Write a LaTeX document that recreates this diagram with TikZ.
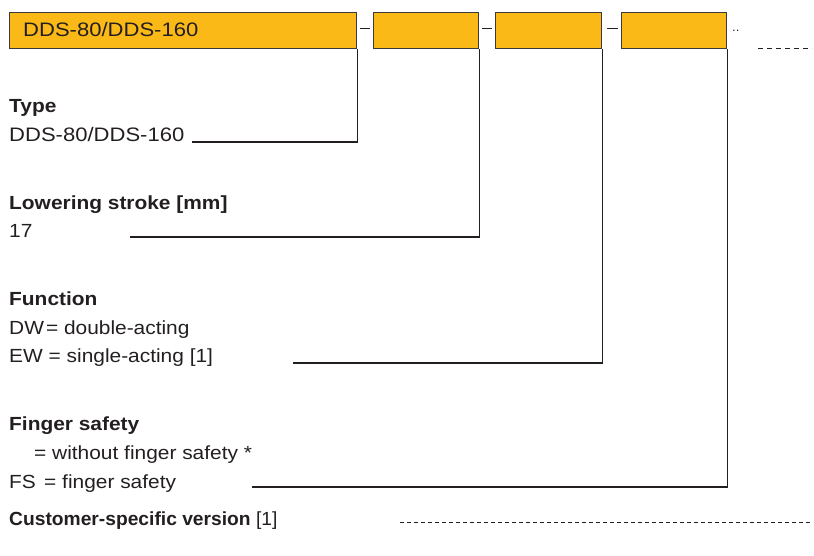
\documentclass[tikz,border=0pt]{standalone}
\usepackage{fontspec}
\usepackage{graphicx}
\setmainfont{Liberation Sans}[FakeStretch=1.1]
\newfontfamily\widefont{Liberation Sans}[FakeStretch=1.13]
\definecolor{boxfill}{HTML}{FBB917}
\definecolor{boxline}{HTML}{3A3A3A}
\definecolor{txt}{HTML}{231F20}
\tikzset{
  codebox/.style={draw=boxline, line width=1.2pt, fill=boxfill, anchor=north west, inner sep=0pt, minimum height=36pt},
  lbl/.style={anchor=base west, inner sep=0pt, text=txt, font=\fontsize{19}{22}\selectfont},
  head/.style={anchor=base west, inner sep=0pt, text=txt, font=\fontsize{19}{22}\selectfont\bfseries},
  conn/.style={draw=txt, line width=1.1pt},
  sep/.style={draw=txt, line width=1pt},
}
\begin{document}
\begin{tikzpicture}[x=1pt,y=-1pt]
\useasboundingbox (0,0) rectangle (814,556);
% boxes
\node[codebox, minimum width=347pt] (b1) at (9,12) {};
\node[lbl, font=\fontsize{19.5}{22}\widefont] at (23,37) {DDS-80/DDS-160};
\node[codebox, minimum width=105pt] (b2) at (373,12) {};
\node[codebox, minimum width=106pt] (b3) at (495,12) {};
\node[codebox, minimum width=105pt] (b4) at (621,12) {};
% separators
\draw[sep] (360,29) -- (370,29);
\draw[sep] (482,29) -- (492,29);
\draw[sep] (607,29) -- (618,29);
\node[lbl, font=\fontsize{12}{14}\selectfont] at (732,32) {..};
\draw[sep, line width=0.8pt, dash pattern=on 5pt off 4pt] (758,48) -- (812,48);
% labels
\node[head] at (9,113) {Type};
\node[lbl, font=\fontsize{19.5}{22}\widefont] (t1) at (9,142) {DDS-80/DDS-160};
\node[head] at (9,210) {Lowering stroke [mm]};
\node[lbl] at (9,237) {17};
\node[head] at (9,305) {Function};
\node[lbl] at (9,334) {DW\kern2pt= double-acting};
\node[lbl] at (9,362) {EW = single-acting [1]};
\node[head] at (9,430) {Finger safety};
\node[lbl] at (34,459) {= without finger safety *};
\node[lbl] at (9,488) {FS};
\node[lbl] at (44,488) {= finger safety};
\node[lbl] at (9,525) {\scalebox{0.92}[1]{\textbf{Customer-specific version} [1]}};
% connector ends
\coordinate (e1) at (192,142);
\coordinate (e2) at (130,237);
\coordinate (e3) at (293,363);
\coordinate (e4) at (252,487);
\coordinate (c1) at (400,522);
\coordinate (c2) at (810,522);
\draw[conn] (b1.south east) |- (e1);
\draw[conn] (b2.south east) |- (e2);
\draw[conn] (b3.south east) |- (e3);
\draw[conn] (b4.south east) |- (e4);
\draw[sep, line width=0.8pt, dash pattern=on 3.5pt off 3.5pt] (c1) -- (c2);
\end{tikzpicture}
\end{document}
